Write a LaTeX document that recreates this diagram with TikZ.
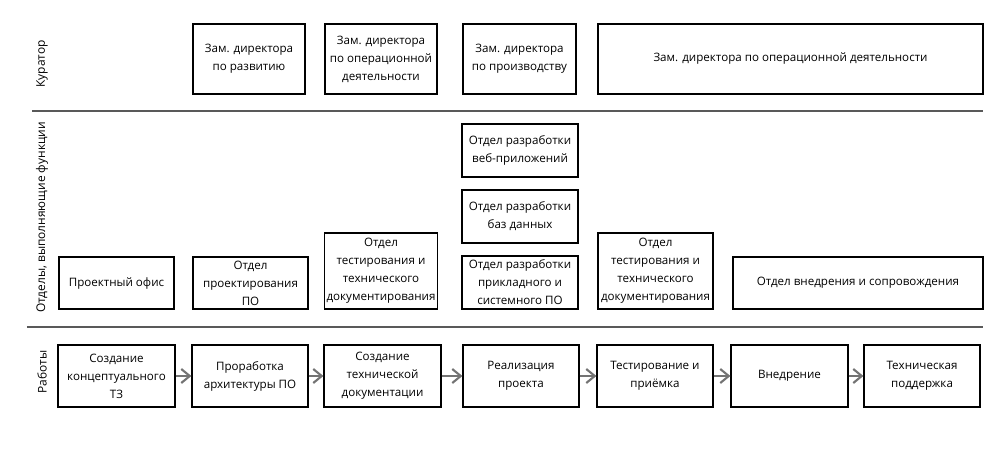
\documentclass[tikz,border=0pt]{standalone}
\usepackage{fontspec}
\setmainfont{Open Sans}
\usetikzlibrary{arrows.meta,positioning}

\begin{document}
\begin{tikzpicture}[
    box/.style={draw, line width=0.65pt, inner sep=1pt, align=center, font=\fontsize{6.6}{10.2}\selectfont, text=black},
    lane/.style={rotate=90, font=\fontsize{6.8}{8}\selectfont, text=black},
    sep/.style={draw=black!65, line width=0.8pt},
    arr/.style={-{Straight Barb[length=1.7mm, width=2.8mm]}, line width=1.2pt, black!55},
]
\useasboundingbox (0,0) rectangle (20,-9);

% Lanes
\node[lane] (lcur) at (0.84,-1.28) {Куратор};
\node[lane] (ldep) at (0.84,-4.35) {Отделы, выполняющие функции};
\node[lane] (lwrk) at (0.84,-7.44) {Работы};
\draw[sep] (0.64,-2.22) -- (19.66,-2.22);
\draw[sep] (0.54,-6.54) -- (19.66,-6.54);

% Curators
\node[box, minimum width=2.24cm, minimum height=1.4cm] (cdev) at (4.98,-1.18) {Зам. директора\\по развитию};
\node[box, minimum width=2.24cm, minimum height=1.4cm] (cops) at (7.62,-1.18) {Зам. директора\\по операционной\\деятельности};
\node[box, minimum width=2.26cm, minimum height=1.4cm] (cprod) at (10.39,-1.18) {Зам. директора\\по производству};
\node[box, minimum width=7.7cm, minimum height=1.4cm] (copsall) at (15.81,-1.18) {Зам. директора по операционной деятельности};

% Departments
\node[box, minimum width=2.3cm, minimum height=1.04cm] (office) at (2.33,-5.66) {Проектный офис};
\node[box, minimum width=2.3cm, minimum height=1.04cm] (design) at (5.01,-5.66) {Отдел\\проектирования\\ПО};
\node[box, minimum width=2.24cm, minimum height=1.52cm] (testa) at (7.62,-5.42) {Отдел\\тестирования и\\технического\\документирования};
\node[box, minimum width=2.32cm, minimum height=1.06cm] (web) at (10.4,-3.01) {Отдел разработки\\веб-приложений};
\node[box, minimum width=2.32cm, minimum height=1.06cm] (db) at (10.4,-4.33) {Отдел разработки\\баз данных};
\node[box, minimum width=2.32cm, minimum height=1.06cm] (sys) at (10.4,-5.65) {Отдел разработки\\прикладного и\\системного ПО};
\node[box, minimum width=2.3cm, minimum height=1.52cm] (testb) at (13.11,-5.42) {Отдел\\тестирования и\\технического\\документирования};
\node[box, minimum width=5cm, minimum height=1.04cm] (deploy) at (17.16,-5.66) {Отдел внедрения и сопровождения};

% Works
\node[box, minimum width=2.34cm, minimum height=1.24cm] (w1) at (2.33,-7.52) {Создание\\концептуального\\ТЗ};
\node[box, minimum width=2.32cm, minimum height=1.24cm] (w2) at (5.0,-7.52) {Проработка\\архитектуры ПО};
\node[box, minimum width=2.34cm, minimum height=1.24cm] (w3) at (7.65,-7.52) {Создание\\технической\\документации};
\node[box, minimum width=2.32cm, minimum height=1.24cm] (w4) at (10.42,-7.52) {Реализация\\проекта};
\node[box, minimum width=2.32cm, minimum height=1.24cm] (w5) at (13.1,-7.52) {Тестирование и\\приёмка};
\node[box, minimum width=2.34cm, minimum height=1.24cm] (w6) at (15.79,-7.52) {Внедрение};
\node[box, minimum width=2.32cm, minimum height=1.24cm] (w7) at (18.44,-7.52) {Техническая\\поддержка};

% Arrows
\draw[arr] (w1) -- (w2); \draw[arr] (w2) -- (w3);
\draw[arr] (w3) -- (w4); \draw[arr] (w4) -- (w5);
\draw[arr] (w5) -- (w6); \draw[arr] (w6) -- (w7);
\end{tikzpicture}
\end{document}
